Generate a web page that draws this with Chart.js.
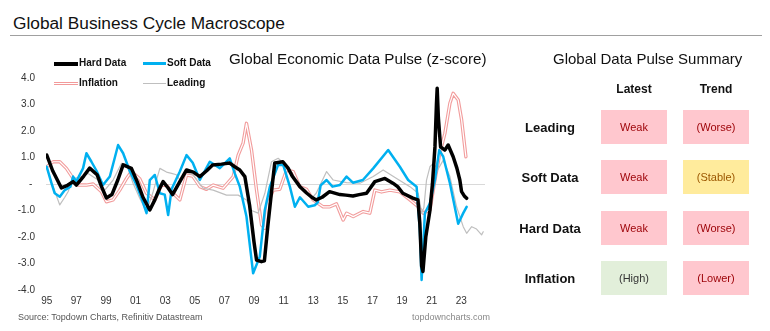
<!DOCTYPE html>
<html lang="en">
<head>
<meta charset="UTF-8">
<title>Global Business Cycle Macroscope</title>
<script src="https://cdn.jsdelivr.net/npm/chart.js"></script>
<style>
body {
    margin: 0;
    padding: 0;
    background: #fff;
    font-family: Arial, "Liberation Sans", sans-serif;
    color: #222;
}
.page {
    position: relative;
    width: 770px;
    height: 331px;
    overflow: hidden;
}
.abs { position: absolute; white-space: nowrap; }
.main-title { left: 13px; top: 15px; font-size: 17.3px; line-height: 17px; color: #111; }
.rule { left: 10px; top: 35px; width: 752px; height: 1px; background: #a0a0a0; }
.chart-title { left: 229px; top: 51px; font-size: 15.2px; line-height: 15px; color: #111; }
.chart-box { left: 0; top: 0; width: 500px; height: 331px; }

/* legend */
.leg-line { height: 3px; }
.leg-text { font-size: 10px; line-height: 10px; font-weight: bold; color: #111; }
.leg-hollow { height: 1px; border-top: 1px solid #f29a9a; border-bottom: 1px solid #f29a9a; }

.source { left: 18px; top: 312px; font-size: 9px; line-height: 10px; color: #555; }
.site { left: 412px; top: 312px; font-size: 9px; line-height: 10px; color: #888; }

/* summary table */
.sum-title { left: 553px; top: 51px; font-size: 15px; line-height: 15px; color: #111; }
.col-head { font-size: 12px; line-height: 12px; font-weight: bold; color: #111; width: 80px; text-align: center; top: 83px; }
.row-label { font-size: 13px; line-height: 13px; font-weight: bold; color: #111; width: 80px; text-align: center; left: 510px; }
.cell { width: 66px; height: 34px; font-size: 11px; line-height: 34px; text-align: center; }
.bad { background: #ffc7ce; color: #9c0006; }
.mid { background: #ffeb9c; color: #9c5700; }
.good { background: #e2efda; color: #333; }
</style>
</head>
<body>
<div class="page">
    <div class="abs main-title">Global Business Cycle Macroscope</div>
    <div class="abs rule"></div>

    <div class="abs chart-box"><canvas id="pulseChart" width="500" height="331"></canvas></div>
    <div class="abs chart-title">Global Economic Data Pulse (z-score)</div>

    <!-- legend -->
    <div class="abs leg-line" style="left:54px; top:62px; width:24px; background:#000; height:4px;"></div>
    <div class="abs leg-text" style="left:79px; top:58px;">Hard Data</div>
    <div class="abs leg-line" style="left:143px; top:62px; width:23px; background:#00b0f0;"></div>
    <div class="abs leg-text" style="left:167px; top:58px;">Soft Data</div>
    <div class="abs leg-hollow" style="left:54px; top:82px; width:24px;"></div>
    <div class="abs leg-text" style="left:79px; top:78px;">Inflation</div>
    <div class="abs leg-line" style="left:143px; top:83px; width:23px; background:#bfbfbf; height:1px;"></div>
    <div class="abs leg-text" style="left:167px; top:78px;">Leading</div>

    <div class="abs source">Source: Topdown Charts, Refinitiv Datastream</div>
    <div class="abs site">topdowncharts.com</div>

    <!-- summary -->
    <div class="abs sum-title">Global Data Pulse Summary</div>
    <div class="abs col-head" style="left:594px;">Latest</div>
    <div class="abs col-head" style="left:676px;">Trend</div>

    <div class="abs row-label" style="top:121px;">Leading</div>
    <div class="abs cell bad" style="left:601px; top:110px;">Weak</div>
    <div class="abs cell bad" style="left:683px; top:110px;">(Worse)</div>

    <div class="abs row-label" style="top:171px;">Soft Data</div>
    <div class="abs cell bad" style="left:601px; top:160px;">Weak</div>
    <div class="abs cell mid" style="left:683px; top:160px;">(Stable)</div>

    <div class="abs row-label" style="top:222px;">Hard Data</div>
    <div class="abs cell bad" style="left:601px; top:211px;">Weak</div>
    <div class="abs cell bad" style="left:683px; top:211px;">(Worse)</div>

    <div class="abs row-label" style="top:272px;">Inflation</div>
    <div class="abs cell good" style="left:601px; top:261px;">(High)</div>
    <div class="abs cell bad" style="left:683px; top:261px;">(Lower)</div>
</div>

<script>
// tick labels on the time axis
const tickYears = [1995, 1997, 1999, 2001, 2003, 2005, 2007, 2009, 2011, 2013, 2015, 2017, 2019, 2021, 2023];

// Hard Data
const hardX = [1995.0, 1995.4, 1995.99, 1996.4, 1996.78, 1997.0, 1997.5, 1997.9, 1998.4, 1998.7, 1999.03, 1999.4, 1999.8, 2000.16, 2000.72, 2001.1, 2001.5, 2001.96, 2002.3, 2002.6, 2002.86, 2003.2, 2003.5, 2003.99, 2004.44, 2004.9, 2005.34, 2005.8, 2006.2, 2006.8, 2007.36, 2007.7, 2008.04, 2008.38, 2008.7, 2009.0, 2009.17, 2009.5, 2009.7, 2009.93, 2010.2, 2010.4, 2010.95, 2011.3, 2011.6, 2012.1, 2012.55, 2012.9, 2013.2, 2013.6, 2014.1, 2014.8, 2015.2, 2015.68, 2016.1, 2016.6, 2017.16, 2017.84, 2018.38, 2018.7, 2019.05, 2019.73, 2020.07, 2020.2, 2020.32, 2020.41, 2020.6, 2020.88, 2021.05, 2021.22, 2021.32, 2021.37, 2021.45, 2021.6, 2021.89, 2022.11, 2022.45, 2022.7, 2022.9, 2023.02, 2023.2, 2023.36];
const hardY = [1.09, 0.5, -0.15, -0.05, 0.09, -0.04, 0.3, 0.6, 0.35, -0.1, -0.53, -0.4, 0.15, 0.72, 0.59, 0.1, -0.5, -0.98, -0.6, -0.2, 0.09, -0.15, -0.4, 0.09, 0.53, 0.45, 0.28, 0.5, 0.72, 0.75, 0.79, 0.65, 0.53, 0.28, -0.8, -2.2, -2.87, -2.93, -2.9, -1.6, -0.2, 0.79, 0.84, 0.6, 0.28, -0.1, -0.34, -0.5, -0.6, -0.5, -0.29, -0.4, -0.42, -0.45, -0.4, -0.35, 0.09, 0.21, 0.03, -0.1, -0.35, -0.53, -0.6, -1.5, -3.1, -3.3, -2.0, -1.0, 0.0, 1.4, 3.0, 3.61, 2.5, 1.4, 1.28, 1.47, 1.03, 0.6, 0.15, -0.29, -0.45, -0.54];

// Soft Data
const softX = [1995.0, 1995.32, 1995.54, 1995.88, 1996.22, 1996.6, 1996.78, 1997.0, 1997.45, 1997.68, 1998.02, 1998.36, 1998.8, 1999.26, 1999.6, 1999.82, 2000.16, 2000.6, 2001.06, 2001.4, 2001.74, 2001.96, 2002.3, 2002.64, 2002.97, 2003.2, 2003.43, 2003.99, 2004.44, 2004.86, 2005.34, 2006.01, 2006.69, 2007.36, 2007.7, 2008.04, 2008.49, 2008.94, 2009.39, 2009.73, 2010.07, 2010.63, 2010.97, 2011.42, 2011.76, 2012.1, 2012.66, 2013.1, 2013.3, 2013.5, 2013.9, 2014.3, 2014.8, 2015.25, 2015.68, 2016.35, 2017.05, 2018.06, 2018.85, 2019.41, 2019.98, 2020.2, 2020.32, 2020.54, 2020.88, 2021.22, 2021.51, 2021.78, 2022.23, 2022.79, 2023.13, 2023.36];
const softY = [0.65, 0.03, -0.35, -0.48, -0.23, -0.1, 0.28, 0.1, 0.59, 1.16, 0.84, 0.5, -0.04, 0.28, 1.0, 1.47, 1.16, 0.5, -0.04, -0.53, -1.1, 0.15, 0.34, -0.35, -0.4, -1.17, -0.2, 0.47, 1.09, 0.8, 0.15, 0.84, 0.6, 0.97, 0.4, -0.1, -1.23, -3.37, -2.74, -0.98, -0.1, 0.72, 0.72, -0.1, -0.86, -0.5, -0.86, -0.8, -0.7, -0.05, 0.15, -0.1, -0.04, 0.28, 0.05, 0.15, 0.59, 1.28, 0.65, 0.15, -0.1, -1.74, -3.62, -1.1, -0.73, 0.15, 1.28, 1.03, 0.03, -1.5, -1.1, -0.86];

// Leading
const leadX = [1995.0, 1995.43, 1995.88, 1996.22, 1996.44, 1996.78, 1997.23, 1997.79, 1998.47, 1998.92, 1999.48, 2000.05, 2000.39, 2000.83, 2001.28, 2001.74, 2002.18, 2002.64, 2003.09, 2003.43, 2003.76, 2003.99, 2004.44, 2004.86, 2005.56, 2006.24, 2007.14, 2007.93, 2008.49, 2008.83, 2009.28, 2009.73, 2010.18, 2010.63, 2011.08, 2011.64, 2012.32, 2012.89, 2013.2, 2013.9, 2014.35, 2015.25, 2016.15, 2017.05, 2017.72, 2018.63, 2019.53, 2020.09, 2020.32, 2020.47, 2020.65, 2020.88, 2021.1, 2021.42, 2021.78, 2022.23, 2022.68, 2023.13, 2023.36, 2023.7, 2024.03, 2024.37, 2024.48];
const leadY = [0.6, -0.1, -0.79, -0.5, -0.29, 0.21, 0.25, 0.4, 0.15, -0.23, 0.15, 0.78, 0.75, 0.03, -0.54, -1.04, -0.3, 0.59, 0.45, 0.4, 0.35, 0.15, 0.45, 0.35, -0.16, -0.23, -0.42, -0.42, -0.6, -1.0, -1.1, -0.35, 0.84, 0.97, 0.75, 0.28, -0.23, -0.54, -0.35, 0.47, 0.15, 0.05, 0.03, 0.28, 0.53, 0.21, -0.1, -0.35, -1.1, -0.9, 0.15, 0.65, 0.78, 0.55, 0.9, 0.28, -0.86, -1.61, -1.86, -1.61, -1.7, -1.92, -1.8];

// Inflation
const inflX = [1995.0, 1995.43, 1995.88, 1996.33, 1996.78, 1997.11, 1997.68, 1998.13, 1998.7, 1999.03, 1999.48, 1999.93, 2000.39, 2000.72, 2001.28, 2001.74, 2002.3, 2002.75, 2003.09, 2003.53, 2003.99, 2004.44, 2004.86, 2005.34, 2005.79, 2006.24, 2006.91, 2007.59, 2007.93, 2008.26, 2008.49, 2008.83, 2009.17, 2009.51, 2009.73, 2009.95, 2010.29, 2010.74, 2011.2, 2011.64, 2012.09, 2012.55, 2012.99, 2013.67, 2014.12, 2014.57, 2015.02, 2015.25, 2015.7, 2016.37, 2016.82, 2017.16, 2017.61, 2018.18, 2018.85, 2019.53, 2020.09, 2020.43, 2020.88, 2021.22, 2021.55, 2021.89, 2022.23, 2022.45, 2022.79, 2023.02, 2023.31];
const inflY = [0.65, 0.84, 0.84, 0.59, 0.21, -0.04, -0.04, 0.0, -0.29, -0.67, -0.6, -0.23, 0.21, 0.47, 0.2, -0.35, -0.6, -0.04, -0.05, -0.35, -0.6, 0.34, 0.3, -0.1, -0.2, -0.04, -0.16, 0.28, 1.09, 1.54, 2.29, 1.28, -0.23, -1.55, -1.67, -0.73, -0.23, -0.2, 0.53, 0.47, -0.1, -0.2, -0.6, -0.86, -0.86, -0.75, -1.36, -1.1, -1.23, -1.04, -1.1, -0.23, -0.3, -0.23, -0.3, -0.6, -0.86, -1.1, -0.98, 0.15, 1.16, 1.91, 3.05, 3.42, 3.17, 2.42, 1.03];

function toPoints(xs, ys) {
    return xs.map((x, i) => ({ x: x, y: ys[i] }));
}

const ctx = document.getElementById('pulseChart').getContext('2d');
const pulseChart = new Chart(ctx, {
    type: 'line',
    data: {
        datasets: [
            { label: 'Hard Data', data: toPoints(hardX, hardY), borderColor: '#000000', borderWidth: 3.5 },
            { label: 'Soft Data', data: toPoints(softX, softY), borderColor: '#00b0f0', borderWidth: 2.5 },
            { label: 'Leading', data: toPoints(leadX, leadY), borderColor: '#bfbfbf', borderWidth: 1.2 },
            // inflation is drawn hollow: white core on top of a pink line
            { label: 'Inflation core', data: toPoints(inflX, inflY), borderColor: '#ffffff', borderWidth: 1.2 },
            { label: 'Inflation', data: toPoints(inflX, inflY), borderColor: '#f29c9c', borderWidth: 3.4 }
        ]
    },
    options: {
        responsive: false,
        animation: false,
        devicePixelRatio: 1,
        elements: {
            point: { radius: 0 },
            line: { tension: 0, borderJoinStyle: 'round', borderCapStyle: 'round' }
        },
        layout: { padding: { top: 78, right: 15, bottom: 23, left: 0 } },
        plugins: {
            legend: { display: false },
            tooltip: { enabled: false }
        },
        scales: {
            x: {
                type: 'linear',
                min: 1994.95,
                max: 2024.6,
                afterBuildTicks: function(scale) {
                    scale.ticks = tickYears.map(v => ({ value: v }));
                },
                afterFit: function(scale) { scale.height = 18; },
                grid: { display: false, drawTicks: false },
                border: { display: false },
                ticks: {
                    autoSkip: false,
                    maxRotation: 0,
                    padding: 5,
                    color: '#333',
                    font: { size: 10, family: 'Arial, "Liberation Sans", sans-serif' },
                    callback: function(value) { return String(value).slice(2); }
                }
            },
            y: {
                min: -4,
                max: 4,
                afterFit: function(scale) { scale.width = 46; },
                grid: {
                    drawTicks: false,
                    color: function(c) { return c.tick && c.tick.value === 0 ? '#d9d9d9' : 'rgba(0,0,0,0)'; },
                    lineWidth: 1
                },
                border: { display: false },
                ticks: {
                    stepSize: 1,
                    padding: 11,
                    color: '#333',
                    font: { size: 10, family: 'Arial, "Liberation Sans", sans-serif' },
                    callback: function(value) { return value === 0 ? '- ' : value.toFixed(1); }
                }
            }
        }
    }
});
</script>
</body>
</html>
